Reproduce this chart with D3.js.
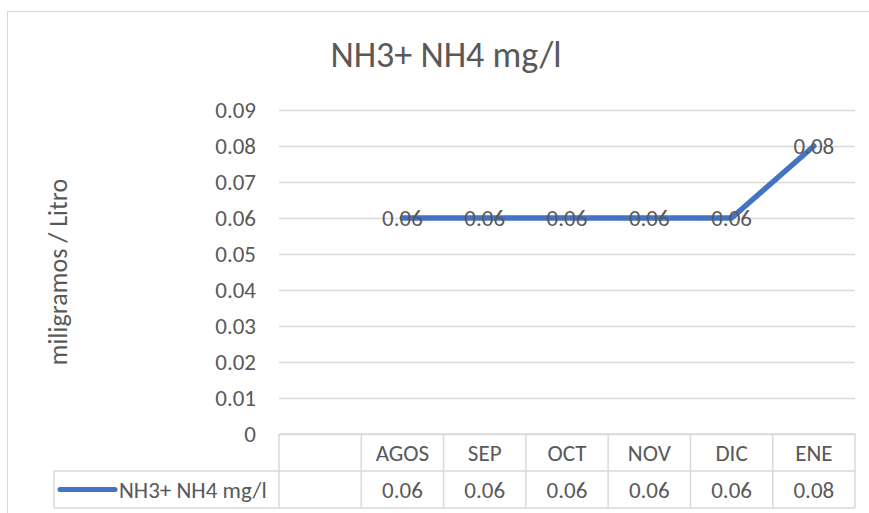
<!DOCTYPE html>
<html>
<head>
<meta charset="utf-8">
<script src="https://cdn.jsdelivr.net/npm/d3@7"></script>
<style>
  body { margin: 0; background: #fff; }
  text { font-family: Carlito, Calibri, Lato, sans-serif; fill: #595959; }
</style>
</head>
<body>
<div id="chart"></div>
<script>
var chartTitle = "NH3+ NH4 mg/l";
var yTitle = "miligramos / Litro";
var seriesName = "NH3+ NH4 mg/l";
// first slot of the category axis is empty in the original chart
var categories = ["", "AGOS", "SEP", "OCT", "NOV", "DIC", "ENE"];
var values = [null, 0.06, 0.06, 0.06, 0.06, 0.06, 0.08];
var yTicks = [0, 0.01, 0.02, 0.03, 0.04, 0.05, 0.06, 0.07, 0.08, 0.09];

var width = 869, height = 513;
var plot = {left: 279, right: 855, top: 110, bottom: 434};
var rowH = 37;
var legendLeft = 54;
var lineColor = "#4472C4", gridColor = "#d9d9d9";

var fmt = function(d) { return d === 0 ? "0" : d3.format(".2f")(d); };

var svg = d3.select("#chart").append("svg")
  .attr("width", width)
  .attr("height", height);

// chart frame (runs off the right and bottom edges)
svg.append("rect")
  .attr("x", 7.5).attr("y", 11.5)
  .attr("width", 900).attr("height", 600)
  .attr("fill", "none")
  .attr("stroke", gridColor);

svg.append("text")
  .attr("x", 446).attr("y", 67)
  .attr("text-anchor", "middle")
  .attr("font-size", 36)
  .text(chartTitle);

var x = d3.scaleBand()
  .domain(categories)
  .range([plot.left, plot.right]);

var y = d3.scaleLinear()
  .domain([0, 0.09])
  .range([plot.bottom, plot.top]);

// gridlines + tick labels
var yAxis = svg.append("g")
  .attr("transform", "translate(" + plot.left + ",0)")
  .call(d3.axisLeft(y)
    .tickValues(yTicks)
    .tickFormat(fmt)
    .tickSize(-(plot.right - plot.left))
    .tickPadding(23));
yAxis.select(".domain").remove();
yAxis.selectAll("line").attr("stroke", gridColor).attr("stroke-width", 1.5);
yAxis.selectAll("text")
  .attr("font-size", 23)
  .attr("fill", "#595959")
  .style("font-family", "Carlito, Calibri, Lato, sans-serif");

svg.append("text")
  .attr("transform", "translate(67," + (plot.top + plot.bottom) / 2 + ") rotate(-90)")
  .attr("text-anchor", "middle")
  .attr("font-size", 26)
  .text(yTitle);

// data table under the plot
var table = svg.append("g").attr("stroke", gridColor).attr("stroke-width", 1.5);
var row1 = plot.bottom + rowH, row2 = plot.bottom + 2 * rowH;
table.append("line").attr("x1", plot.left).attr("x2", plot.right).attr("y1", plot.bottom).attr("y2", plot.bottom);
table.append("line").attr("x1", legendLeft).attr("x2", plot.right).attr("y1", row1).attr("y2", row1);
table.append("line").attr("x1", legendLeft).attr("x2", plot.right).attr("y1", row2).attr("y2", row2);
table.append("line").attr("x1", legendLeft).attr("x2", legendLeft).attr("y1", row1).attr("y2", row2);
table.selectAll(".col").data(categories.concat(["end"]))
  .enter().append("line")
  .attr("x1", function(d, i) { return i < categories.length ? x(d) : plot.right; })
  .attr("x2", function(d, i) { return i < categories.length ? x(d) : plot.right; })
  .attr("y1", plot.bottom).attr("y2", row2);

svg.selectAll(".cat").data(categories)
  .enter().append("text")
  .attr("x", function(d) { return x(d) + x.bandwidth() / 2; })
  .attr("y", plot.bottom + rowH / 2)
  .attr("dy", "0.35em")
  .attr("text-anchor", "middle")
  .attr("font-size", 23)
  .text(function(d) { return d; });

svg.selectAll(".cell").data(values)
  .enter().append("text")
  .attr("x", function(d, i) { return x(categories[i]) + x.bandwidth() / 2; })
  .attr("y", row1 + rowH / 2)
  .attr("dy", "0.35em")
  .attr("text-anchor", "middle")
  .attr("font-size", 23)
  .text(function(d) { return d == null ? "" : fmt(d); });

// legend key in table
svg.append("line")
  .attr("x1", 60).attr("x2", 115)
  .attr("y1", row1 + rowH / 2).attr("y2", row1 + rowH / 2)
  .attr("stroke", lineColor).attr("stroke-width", 5)
  .attr("stroke-linecap", "round");
svg.append("text")
  .attr("x", 119).attr("y", row1 + rowH / 2)
  .attr("dy", "0.35em")
  .attr("font-size", 23)
  .text(seriesName);

// series line
var pts = categories.map(function(c, i) { return {c: c, v: values[i]}; });
var line = d3.line()
  .defined(function(d) { return d.v != null; })
  .x(function(d) { return x(d.c) + x.bandwidth() / 2; })
  .y(function(d) { return y(d.v); });

svg.append("path")
  .datum(pts)
  .attr("d", line)
  .attr("fill", "none")
  .attr("stroke", lineColor)
  .attr("stroke-width", 5.5)
  .attr("stroke-linecap", "round")
  .attr("stroke-linejoin", "round");

svg.selectAll(".lbl").data(pts.filter(function(d) { return d.v != null; }))
  .enter().append("text")
  .attr("x", function(d) { return x(d.c) + x.bandwidth() / 2; })
  .attr("y", function(d) { return y(d.v); })
  .attr("dy", "0.35em")
  .attr("text-anchor", "middle")
  .attr("font-size", 23)
  .text(function(d) { return fmt(d.v); });
</script>
</body>
</html>
